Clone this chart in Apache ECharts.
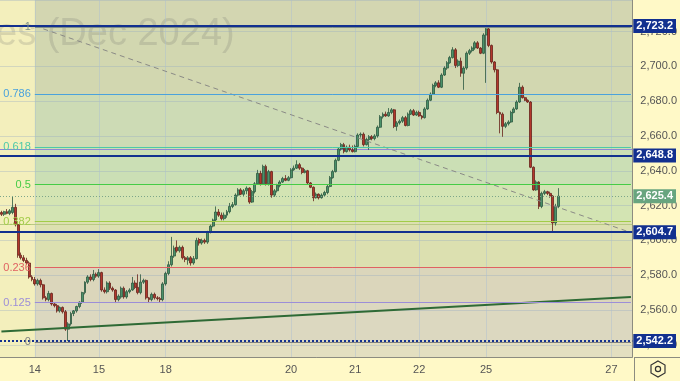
<!DOCTYPE html>
<html><head><meta charset="utf-8">
<script src="https://cdn.jsdelivr.net/npm/echarts@6/dist/echarts.min.js"></script>
<style>html,body{margin:0;padding:0;background:#fff9c7}#c{width:680px;height:381px}</style>
</head><body><div id="c"></div>
<script>
// ---- data (hourly candles, Gold futures Dec 2024) ----
const opens = [2616,2615,2616.5,2615.5,2616,2619,2609,2591.5,2590,2588.5,2587,2579,2577.5,2575,2577,2574.5,2567,2566,2569.5,2563.5,
2562.5,2559.5,2561.5,2559,2549,2552,2558,2559.5,2562,2564.5,2570,2576,2579,2577.5,2580.5,2579.5,2581.5,2571.5,2570.5,2575.5,
2572.5,2571.5,2566,2567.5,2572.5,2567.5,2570.5,2571.5,2575.5,2573,2570,2576,2577,2567,2566,2569,2567,2566.5,2566,2575,
2581,2586,2591,2596,2594,2596,2590,2588.5,2590,2587,2589.5,2600.5,2598.5,2600,2599,2604.8,2608.2,2611.7,2616.3,2614.5,
2612.5,2614.5,2616.5,2619.5,2620.5,2626,2629,2626.5,2628.5,2630,2622,2628,2632.5,2638.5,2632.5,2642.5,2632.5,2639.5,2626,2628.5,
2631.5,2633.5,2635.5,2634.5,2636,2640.5,2641.5,2643.5,2641.5,2639,2640,2633,2630.5,2624.5,2626.5,2624.5,2626,2627.5,2631,2636,
2639.5,2646,2652.5,2655,2651,2653.5,2652,2651,2654,2660.5,2661,2655,2658,2659.5,2658.5,2660,2665,2671,2672.5,2671.5,
2673.5,2675,2665.5,2667.5,2668.5,2670.5,2666,2672.5,2674.5,2672,2673.5,2671.5,2670.5,2675.5,2680.5,2684,2689,2690.5,2688,2695,
2699,2702,2705,2709.5,2700.5,2703,2696,2699,2707.5,2709,2710.5,2713.5,2710.5,2707.5,2718,2721.5,2712,2702.5,2698,2673.5,
2672.5,2665.5,2667,2668,2673.5,2675.5,2679.5,2688,2682,2680.5,2679.5,2642,2629,2633.5,2619.5,2627,2628,2627,2625.5,2610,
2619.5];
const highs = [2617,2617,2618,2618,2625,2621,2611,2593,2591.5,2590,2588,2580,2579,2578,2578,2575,2568,2571,2570,2564,
2563.5,2562,2562,2560,2553,2559,2560,2562.5,2565,2570.5,2576.5,2580,2580.5,2583,2581.5,2583.5,2582,2573,2576.5,2576.5,
2573.5,2572,2569,2573.5,2573.5,2571.5,2572.5,2579,2577,2580.5,2580.5,2578,2577.5,2567.5,2570,2570,2568,2567.5,2576,2582,
2588,2602,2597,2600,2597,2597,2591,2591,2591,2591,2601.5,2601.5,2601,2601,2605.5,2609,2612.5,2619.5,2618,2616,
2616,2617.5,2621.5,2622,2627,2630,2630,2629.5,2631,2630.5,2629,2633.5,2640.5,2640,2643.5,2643.5,2640.5,2640,2629.5,2632.5,
2634.5,2636.5,2637.5,2637,2641.5,2643,2646,2644.5,2642,2641,2640.5,2633.5,2631,2627.5,2627,2627,2628.5,2632,2637,2640.5,
2647,2653.5,2656,2656,2654.5,2655,2654.5,2655,2661.5,2662,2662,2659,2660.5,2660.5,2661,2666,2672,2673.5,2674,2676,
2676,2675.5,2668.5,2669.5,2671.5,2671.5,2673.5,2675.5,2675.5,2674.5,2674.5,2672,2676.5,2681.5,2685,2690,2691.5,2692,2696,2700,
2703,2706,2711,2710.5,2704,2705,2700,2708.5,2710,2711.5,2714.5,2714.5,2711,2719,2723.2,2722.5,2712.5,2703,2698.5,2674,
2673.5,2668,2669,2674.5,2676.5,2680.5,2690.5,2689,2682.5,2681,2680,2642.5,2634.5,2634,2628,2629,2628.5,2628,2626,2621,
2630];
const lows = [2614,2614,2615,2614.5,2615,2608,2590,2589,2587.5,2586,2578,2576.5,2574,2574,2573,2566,2565,2565,2562.5,2561.5,
2558.5,2558.5,2558,2548,2542.2,2551,2556.5,2558.5,2561,2563.5,2569,2575,2576.5,2576.5,2578.5,2578.5,2570.5,2569.5,2569.5,2571.5,
2570.5,2564,2565,2566.5,2566.5,2566.5,2569.5,2571,2572,2569,2569,2575,2566,2564,2565,2566,2565.5,2564.5,2565,2574,
2580,2585,2590,2593,2593,2589,2587.5,2586,2585.5,2586,2589,2597,2597.5,2598,2598,2604,2607.5,2611,2613.5,2611.5,
2611.5,2613,2615.5,2618.5,2620,2625.5,2626,2625.5,2626.5,2621,2621.5,2627,2632,2631.5,2632,2631.5,2631.5,2624.5,2625,2627.5,
2630.5,2633,2634,2634,2635.5,2640,2641,2640.5,2638,2638.5,2632,2630,2622.5,2624,2623.5,2624,2625,2626.5,2630.5,2635.5,
2639,2645.5,2651.5,2650,2650.5,2651,2650.5,2650.5,2653.5,2659,2654,2654.5,2652,2657.5,2657.5,2659,2664.5,2670,2671,2671,
2672.5,2664.5,2663,2666.5,2667.5,2665.5,2665.5,2672,2671.5,2671.5,2671,2669.5,2670,2675,2680,2683.5,2688,2687.5,2687.5,2694.5,
2698,2701.5,2704.5,2699,2699.5,2694,2686.5,2698,2706.5,2708,2709.5,2710,2707,2707,2690.5,2711,2701.5,2696.5,2672.5,2661.5,
2659.5,2664.5,2666,2667.5,2673,2675,2679,2681.5,2680,2679,2641.5,2628.5,2628.5,2618,2618.5,2626,2626,2624.5,2604.7,2608.5,
2618.5];
const closes = [2615,2616.5,2615.5,2617,2619,2609,2591.5,2590,2588.5,2587,2579,2577.5,2575,2577,2574.5,2567,2566,2569.5,2563.5,2562.5,
2559.5,2561.5,2559,2549,2552,2558,2559.5,2562,2564.5,2570,2576,2579,2577.5,2580.5,2579.5,2581.5,2571.5,2570.5,2575.5,2572.5,
2571.5,2566,2568,2572.5,2567.5,2570.5,2571.5,2575.5,2573,2570,2576,2577,2567,2566,2569,2567,2566.5,2566,2575,2581,
2586,2591,2595.5,2594,2596,2590,2589,2590,2587,2589.5,2600,2598.5,2600,2599,2604.8,2608.2,2611.7,2616.3,2614.5,2612.5,
2614.5,2616.5,2619.5,2620.5,2626,2629,2626.5,2628.5,2630,2622,2628,2632.5,2638.5,2632.5,2642.5,2632.5,2639.5,2626,2628.5,2631.5,
2633.5,2635.5,2634.5,2636,2640.5,2641.5,2643.5,2641.5,2639,2640,2633,2630.5,2624.5,2626.5,2624.5,2626,2627.5,2631,2636,2639.5,
2646,2652.5,2655,2651,2653.5,2652,2651,2654,2660.5,2661,2655,2658,2659.5,2658.5,2660,2665,2671,2672.5,2671.5,2673.5,
2675,2665.5,2667.5,2668.5,2670.5,2666,2672.5,2674.5,2672,2673.5,2671.5,2670.5,2675.5,2680.5,2684,2689,2690.5,2688,2695,2699,
2702,2705,2709.5,2700.5,2703,2696,2699,2707.5,2709,2710.5,2713.5,2710.5,2707.5,2718,2721.5,2712,2702.5,2698,2673.5,2672.5,
2665.5,2667,2668,2673.5,2675.5,2679.5,2688,2682,2680.5,2679.5,2642,2629,2633.5,2619.5,2627,2628,2627,2625.5,2610,2619.5,
2625.4];
const slotCount = 227;                 // hourly slots on the time axis (incl. empty future slots)
const dayTickIndex = [12,35,59,104,127,150,174,219];
const dayTickLabel = ['14','15','18','20','21','22','25','27'];
const fibHigh = 2722.6, fibLow = 2541.6, fibStartIndex = 12;
const fibRatios = [1,0.786,0.618,0.5,0.382,0.236,0.125,0];
const fibLabels = ['1','0.786','0.618','0.5','0.382','0.236','0.125','0'];
const fibLineColors = ['#7f8f88','#4aa2dc','#4cc9a8','#46cc46','#a2cc48','#e06262','#9c8ed8','#7f8080'];
const fibBandColors = ['#d3d6b1','#d2d7b0','#cddbb5','#cbdfb5','#d3e4b3','#dce0b0','#dbd6bb','#dcd8c0','#e3dfc0'];
const extraLevels = [2652.5, 2609.2];
const extraColors = ['#8f86d6', '#b8c983'];
const userLevels = [2723.2, 2648.8, 2604.7, 2542.2];
const lastPrice = 2625.4;
const trendDashed = [[12, 2723.2],[226, 2604.5]];
const trendGreen = [[0, 2547.6],[226, 2567.5]];
const yMin = 2533.0, yMax = 2738.1;

// ---- build ----
const cats = [];
for (let i = 0; i < slotCount; i++) cats.push('t' + i);
const candles = opens.map((o, i) => [o, closes[i], lows[i], highs[i]]);
const fmt = v => v.toLocaleString('en-US', {minimumFractionDigits: 1, maximumFractionDigits: 1});
const fibPrices = fibRatios.map(r => fibLow + r * (fibHigh - fibLow));
const tickSet = {};
dayTickIndex.forEach((ix, j) => tickSet[ix] = dayTickLabel[j]);

const bandEdges = [yMax].concat(fibPrices).concat([yMin]);
const bands = [];
for (let i = 0; i < bandEdges.length - 1; i++) {
  bands.push([{xAxis: cats[fibStartIndex], yAxis: bandEdges[i], itemStyle: {color: fibBandColors[i]}},
              {yAxis: bandEdges[i + 1]}]);
}
const fibLines = fibPrices.map((p, i) => [
  {coord: [cats[fibStartIndex], p], lineStyle: {color: fibLineColors[i], width: 1, type: 'solid'},
   label: {show: true, position: 'start', formatter: fibLabels[i], color: fibLineColors[i], fontSize: 11, distance: 4}},
  {coord: [cats[slotCount - 1], p]}]);

const tagLabel = (txt, bg) => ({show: true, position: 'end', formatter: txt, backgroundColor: bg, color: '#ffffff',
  fontSize: 11, fontWeight: 'bold', padding: [2, 3, 1, 3], distance: 1, fontFamily: 'Liberation Sans'});

const userLines = userLevels.map((v, i) => ({yAxis: v,
  lineStyle: {color: '#12308f', width: 2, type: i === 3 ? 'dotted' : 'solid'},
  label: tagLabel(fmt(v), '#12308f')}));
const extraLines = extraLevels.map((v, i) => ({yAxis: v, lineStyle: {color: extraColors[i], width: 1, type: 'solid'}}));

const chart = echarts.init(document.getElementById('c'), null, {renderer: 'canvas'});
chart.setOption({
  backgroundColor: '#fff9c7',
  animation: false,
  textStyle: {fontFamily: 'Liberation Sans'},
  grid: {left: 0, right: 46, top: 0, bottom: 24, show: true, backgroundColor: '#f3efbc', borderWidth: 0},
  xAxis: {
    type: 'category', data: cats, boundaryGap: true, z: 2,
    axisLine: {show: true, lineStyle: {color: '#8c8c80'}},
    axisTick: {show: false},
    splitLine: {show: false},
    axisLabel: {interval: (i) => tickSet[i] !== undefined, formatter: (v, i) => tickSet[i] || '',
      color: '#555555', fontSize: 11, margin: 7}
  },
  yAxis: {
    type: 'value', position: 'right', min: yMin, max: yMax, splitNumber: 10, z: 2,
    axisLine: {show: true, lineStyle: {color: '#8c8c80'}},
    axisTick: {show: false},
    splitLine: {show: true, lineStyle: {color: 'rgba(150,170,195,0.35)', width: 1}},
    axisLabel: {color: '#555555', fontSize: 11, margin: 8, showMinLabel: false, showMaxLabel: false,
      formatter: v => (Math.abs(v % 20) < 1e-6 ? fmt(v) : '')}
  },
  graphic: [
    {type: 'text', left: -4, top: 16, z: 2, silent: true,
     style: {text: 'es (Dec 2024)', font: '38px "Liberation Sans"', fill: 'rgba(105,105,105,0.2)'}},
    {type: 'line', z: 10, shape: {x1: 634.5, y1: 357, x2: 634.5, y2: 381}, style: {stroke: '#8c8c80', lineWidth: 1}},
    {type: 'line', z: 10, shape: {x1: 634, y1: 357.5, x2: 680, y2: 357.5}, style: {stroke: '#8c8c80', lineWidth: 1}},
    {type: 'polygon', z: 10, shape: {points: [[658,361],[665,365],[665,373],[658,377],[651,373],[651,365]]},
     style: {fill: 'none', stroke: '#333', lineWidth: 1.2}},
    {type: 'circle', z: 10, shape: {cx: 658, cy: 369, r: 2.6}, style: {fill: 'none', stroke: '#333', lineWidth: 1.2}}
  ],
  series: [
    {type: 'line', data: [], silent: true,
     markArea: {silent: true, z: 1, data: bands}},
    {type: 'line', data: [], silent: true,
     markLine: {silent: true, z: 2, symbol: 'none', label: {show: false},
       lineStyle: {color: 'rgba(170,190,210,0.45)', width: 1, type: 'solid'},
       data: dayTickIndex.map(ix => ({xAxis: cats[ix]}))}},
    {type: 'line', data: [], silent: true,
     markLine: {silent: true, z: 3, symbol: 'none', label: {show: false}, data: extraLines}},
    {type: 'candlestick', name: 'GC', data: candles, z: 4, barWidth: 2.4,
     itemStyle: {color: '#4a9169', color0: '#b3372c', borderColor: '#2c5840', borderColor0: '#67221b', borderWidth: 0.8}},
    {type: 'line', data: [], silent: true,
     markLine: {silent: true, z: 5, symbol: 'none', label: {show: false},
       data: [
         [{coord: [cats[trendDashed[0][0]], trendDashed[0][1]], lineStyle: {color: '#8a8a86', width: 1, type: [5, 4]}},
          {coord: [cats[trendDashed[1][0]], trendDashed[1][1]]}],
         [{coord: [cats[trendGreen[0][0]], trendGreen[0][1]], lineStyle: {color: '#2e6a35', width: 2, type: 'solid'}},
          {coord: [cats[trendGreen[1][0]], trendGreen[1][1]]}],
         {yAxis: lastPrice, lineStyle: {color: '#7da68a', width: 1, type: [1, 2]},
          label: tagLabel(fmt(lastPrice), '#68a57f')}
       ]}},
    {type: 'line', data: [], silent: true,
     markLine: {silent: true, z: 6, symbol: 'none', data: userLines}},
    {type: 'line', data: [], silent: true,
     markLine: {silent: true, z: 7, symbol: 'none', data: fibLines}}
  ]
});
</script></body></html>
